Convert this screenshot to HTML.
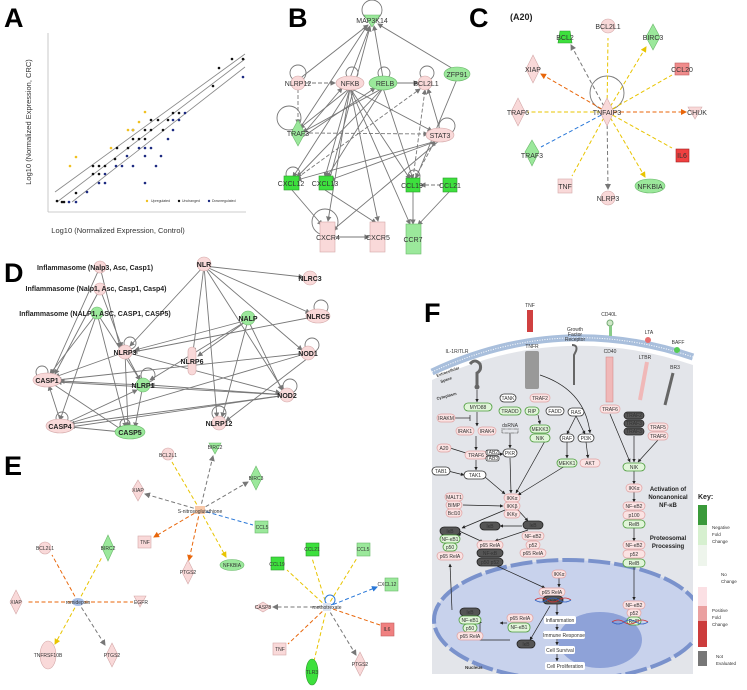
<!DOCTYPE html>
<html><head><meta charset="utf-8"><style>
html,body{margin:0;padding:0;background:#fff;}
svg{display:block;font-family:"Liberation Sans",sans-serif;}
.e{stroke:#777;stroke-width:0.9;fill:none}
.d{stroke:#777;stroke-width:0.9;fill:none;stroke-dasharray:4 2}
.t{font-size:7px;fill:#333;text-anchor:middle}
.tb{font-size:7px;fill:#222;text-anchor:middle;font-weight:bold}
.pk{fill:#f9d9d9;stroke:#d4a8a8;stroke-width:0.6}
.gr{fill:#3de03d;stroke:#2a9a2a;stroke-width:0.6}
.lg{fill:#9be89b;stroke:#6ab86a;stroke-width:0.6}
.ft{font-size:5px;fill:#333;text-anchor:middle}
.pp{fill:#fbe3e3;stroke:#e0a0a0;stroke-width:0.7}
.pg{fill:#e1f5d9;stroke:#4a9a3a;stroke-width:0.8}
.pw{fill:#fff;stroke:#333;stroke-width:0.8}
.pd{fill:#555;stroke:#222;stroke-width:0.8}
.fa{stroke:#222;stroke-width:0.7;fill:none}
</style></head><body>
<svg width="747" height="690" viewBox="0 0 747 690" xmlns="http://www.w3.org/2000/svg">
<defs>
<marker id="ag" markerWidth="6" markerHeight="6" refX="5" refY="3" orient="auto"><path d="M0,0L6,3L0,6z" fill="#777"/></marker>
<marker id="ak" markerWidth="5" markerHeight="5" refX="4.5" refY="2.5" orient="auto"><path d="M0,0L5,2.5L0,5z" fill="#222"/></marker>
<marker id="ao" markerWidth="6" markerHeight="6" refX="5" refY="3" orient="auto"><path d="M0,0L6,3L0,6z" fill="#e8660a"/></marker>
<marker id="ay" markerWidth="6" markerHeight="6" refX="5" refY="3" orient="auto"><path d="M0,0L6,3L0,6z" fill="#e8c400"/></marker>
<marker id="ab" markerWidth="6" markerHeight="6" refX="5" refY="3" orient="auto"><path d="M0,0L6,3L0,6z" fill="#2a78d8"/></marker>
</defs>

<!-- ================= A ================= -->
<text x="4" y="27" font-size="27" font-weight="bold" fill="#000">A</text>
<line x1="48" y1="33" x2="48" y2="212" stroke="#bbb" stroke-width="0.8"/>
<line x1="48" y1="212" x2="246" y2="212" stroke="#bbb" stroke-width="0.8"/>
<line x1="55" y1="192" x2="245" y2="54" stroke="#888" stroke-width="0.8"/>
<line x1="57" y1="202" x2="245" y2="59" stroke="#888" stroke-width="0.8"/>
<line x1="72" y1="202" x2="245" y2="67" stroke="#888" stroke-width="0.8"/>
<g fill="#111">
<circle cx="57" cy="201" r="1.3"/><circle cx="62" cy="202" r="1.3"/><circle cx="64" cy="202" r="1.3"/><circle cx="76" cy="193" r="1.3"/><circle cx="93" cy="166" r="1.3"/><circle cx="93" cy="174" r="1.3"/><circle cx="99" cy="166" r="1.3"/><circle cx="99" cy="174" r="1.3"/><circle cx="105" cy="166" r="1.3"/><circle cx="115" cy="159" r="1.3"/><circle cx="117" cy="148" r="1.3"/><circle cx="128" cy="148" r="1.3"/><circle cx="133" cy="139" r="1.3"/><circle cx="139" cy="139" r="1.3"/><circle cx="133" cy="130" r="1.3"/><circle cx="145" cy="130" r="1.3"/><circle cx="145" cy="139" r="1.3"/><circle cx="151" cy="130" r="1.3"/><circle cx="151" cy="120" r="1.3"/><circle cx="158" cy="120" r="1.3"/><circle cx="163" cy="130" r="1.3"/><circle cx="168" cy="120" r="1.3"/><circle cx="173" cy="113" r="1.3"/><circle cx="179" cy="113" r="1.3"/><circle cx="213" cy="86" r="1.3"/><circle cx="219" cy="68" r="1.3"/><circle cx="232" cy="59" r="1.3"/><circle cx="243" cy="59" r="1.3"/>
</g>
<g fill="#1c2a80">
<circle cx="69" cy="202" r="1.3"/><circle cx="76" cy="202" r="1.3"/><circle cx="87" cy="192" r="1.3"/><circle cx="99" cy="183" r="1.3"/><circle cx="105" cy="183" r="1.3"/><circle cx="105" cy="174" r="1.3"/><circle cx="116" cy="166" r="1.3"/><circle cx="122" cy="166" r="1.3"/><circle cx="127" cy="156" r="1.3"/><circle cx="133" cy="166" r="1.3"/><circle cx="139" cy="148" r="1.3"/><circle cx="145" cy="148" r="1.3"/><circle cx="151" cy="148" r="1.3"/><circle cx="145" cy="156" r="1.3"/><circle cx="156" cy="166" r="1.3"/><circle cx="145" cy="183" r="1.3"/><circle cx="161" cy="156" r="1.3"/><circle cx="168" cy="139" r="1.3"/><circle cx="173" cy="120" r="1.3"/><circle cx="173" cy="130" r="1.3"/><circle cx="179" cy="120" r="1.3"/><circle cx="185" cy="113" r="1.3"/><circle cx="243" cy="77" r="1.3"/>
</g>
<g fill="#f0c020">
<circle cx="70" cy="166" r="1.3"/><circle cx="76" cy="157" r="1.3"/><circle cx="111" cy="148" r="1.3"/><circle cx="128" cy="130" r="1.3"/><circle cx="133" cy="130" r="1.3"/><circle cx="139" cy="122" r="1.3"/><circle cx="145" cy="112" r="1.3"/>
</g>
<circle cx="147" cy="201" r="1.2" fill="#f0c020"/><text x="151" y="202" font-size="3.5" fill="#333">Upregulated</text>
<circle cx="179" cy="201" r="1.2" fill="#111"/><text x="182" y="202" font-size="3.5" fill="#333">Unchanged</text>
<circle cx="209" cy="201" r="1.2" fill="#1c2a80"/><text x="212" y="202" font-size="3.5" fill="#333">Downregulated</text>
<text x="118" y="233" font-size="7.5" fill="#333" text-anchor="middle">Log10 (Normalized Expression, Control)</text>
<text transform="translate(31,122) rotate(-90)" font-size="7.5" fill="#333" text-anchor="middle">Log10 (Normalized Expression, CRC)</text>

<!-- ================= B ================= -->
<text x="288" y="27" font-size="27" font-weight="bold" fill="#000">B</text>
<g class="e" marker-end="url(#ag)">
<line x1="298" y1="80" x2="368" y2="25"/><line x1="350" y1="78" x2="370" y2="26"/><line x1="383" y1="78" x2="374" y2="26"/><line x1="455" y1="70" x2="378" y2="24"/>
<line x1="300" y1="128" x2="367" y2="26"/><line x1="330" y1="178" x2="370" y2="27"/>
<line x1="350" y1="88" x2="300" y2="128"/><line x1="350" y1="88" x2="293" y2="177"/><line x1="350" y1="88" x2="325" y2="177"/><line x1="350" y1="88" x2="328" y2="221"/><line x1="350" y1="88" x2="378" y2="221"/><line x1="350" y1="88" x2="410" y2="224"/><line x1="350" y1="88" x2="410" y2="179"/><line x1="350" y1="88" x2="432" y2="131"/>
<line x1="383" y1="88" x2="303" y2="132"/><line x1="383" y1="88" x2="297" y2="177"/><line x1="383" y1="88" x2="327" y2="177"/><line x1="383" y1="88" x2="413" y2="179"/><line x1="395" y1="83" x2="418" y2="83"/>
<line x1="457" y1="79" x2="416" y2="178"/><line x1="440" y1="140" x2="297" y2="180"/><line x1="440" y1="140" x2="330" y2="180"/><line x1="440" y1="140" x2="333" y2="230"/><line x1="440" y1="130" x2="428" y2="89"/>
<line x1="413" y1="192" x2="413" y2="224"/><line x1="449" y1="192" x2="418" y2="225"/><line x1="325" y1="190" x2="376" y2="223"/><line x1="336" y1="237" x2="369" y2="237"/><line x1="292" y1="190" x2="322" y2="225"/>
<line x1="298" y1="140" x2="342" y2="88"/><line x1="298" y1="140" x2="375" y2="88"/>
</g>
<g class="d" marker-end="url(#ag)">
<line x1="306" y1="83" x2="335" y2="83"/><line x1="298" y1="89" x2="298" y2="124"/><line x1="309" y1="133" x2="428" y2="134"/><line x1="297" y1="178" x2="420" y2="89"/><line x1="413" y1="178" x2="425" y2="90"/><line x1="441" y1="185" x2="421" y2="185"/><line x1="415" y1="178" x2="435" y2="141"/>
</g>
<g class="e">
<circle cx="372" cy="10" r="10"/><circle cx="298" cy="73" r="8"/><circle cx="352" cy="73" r="6"/><circle cx="384" cy="73" r="6"/><circle cx="427" cy="73" r="7"/><circle cx="447" cy="126" r="8"/><circle cx="289" cy="118" r="12"/><circle cx="293" cy="174" r="7"/><circle cx="414" cy="176" r="6"/><circle cx="325" cy="222" r="13"/>
</g>
<polygon points="364,15 380,15 372,27" class="lg"/><text x="372" y="23" class="t">MAP3K14</text>
<circle cx="298" cy="83" r="7" class="pk"/><text x="298" y="86" class="t">NLRP12</text>
<ellipse cx="350" cy="83" rx="14" ry="7" class="pk"/><text x="350" y="86" class="t">NFKB</text>
<ellipse cx="383" cy="83" rx="14" ry="7" class="lg"/><text x="385" y="86" class="t">RELB</text>
<circle cx="425" cy="83" r="7" class="pk"/><text x="426" y="86" class="t">BCL2L1</text>
<ellipse cx="457" cy="74" rx="13" ry="7" class="lg"/><text x="457" y="77" class="t">ZFP91</text>
<polygon points="298,120 305,133 298,146 291,133" class="lg"/><text x="298" y="136" class="t">TRAF3</text>
<ellipse cx="440" cy="135" rx="14" ry="7" class="pk"/><text x="440" y="138" class="t">STAT3</text>
<rect x="284" y="176" width="15" height="14" class="gr"/><text x="291" y="186" class="t">CXCL12</text>
<rect x="319" y="176" width="14" height="14" class="gr"/><text x="325" y="186" class="t">CXCL13</text>
<rect x="406" y="178" width="14" height="14" class="gr"/><text x="412" y="188" class="t">CCL19</text>
<rect x="443" y="178" width="14" height="14" class="gr"/><text x="450" y="188" class="t">CCL21</text>
<rect x="320" y="222" width="15" height="30" class="pk"/><text x="328" y="240" class="t">CXCR4</text>
<rect x="370" y="222" width="15" height="30" class="pk"/><text x="378" y="240" class="t">CXCR5</text>
<rect x="406" y="224" width="15" height="30" class="lg"/><text x="413" y="242" class="t">CCR7</text>

<!-- ================= C ================= -->
<text x="469" y="27" font-size="27" font-weight="bold" fill="#000">C</text>
<text x="510" y="20" font-size="9" font-weight="bold" fill="#222">(A20)</text>
<circle cx="607" cy="93" r="17" class="e"/>
<g fill="none" stroke-width="1" stroke-dasharray="4 2.5">
<line x1="607" y1="112" x2="608" y2="38" stroke="#e8c400"/>
<line x1="607" y1="112" x2="571" y2="45" stroke="#777" marker-end="url(#ag)"/>
<line x1="607" y1="112" x2="646" y2="47" stroke="#e8c400" marker-end="url(#ay)"/>
<line x1="607" y1="112" x2="541" y2="74" stroke="#e8660a" marker-end="url(#ao)"/>
<line x1="607" y1="112" x2="672" y2="75" stroke="#e8c400"/>
<line x1="607" y1="112" x2="527" y2="112" stroke="#e8c400"/>
<line x1="607" y1="112" x2="686" y2="112" stroke="#e8660a" marker-end="url(#ao)"/>
<line x1="607" y1="112" x2="541" y2="147" stroke="#2a78d8"/>
<line x1="607" y1="112" x2="672" y2="148" stroke="#e8c400"/>
<line x1="607" y1="112" x2="572" y2="176" stroke="#e8c400"/>
<line x1="607" y1="112" x2="608" y2="189" stroke="#777" marker-end="url(#ag)"/>
<line x1="607" y1="112" x2="645" y2="177" stroke="#e8c400" marker-end="url(#ay)"/>
</g>
<polygon points="607,98 614,112 607,126 600,112" class="pk"/><text x="607" y="115" class="t">TNFAIP3</text>
<circle cx="608" cy="26" r="7" class="pk"/><text x="608" y="29" class="t">BCL2L1</text>
<polygon points="560,31 570,31 572,43 558,43" class="gr"/><text x="565" y="40" class="t">BCL2</text>
<polygon points="653,24 660,37 653,50 646,37" class="lg"/><text x="653" y="40" class="t">BIRC3</text>
<polygon points="533,55 540,69 533,83 526,69" class="pk"/><text x="533" y="72" class="t">XIAP</text>
<rect x="675" y="63" width="14" height="12" fill="#f08c8c" stroke="#c06060" stroke-width="0.6"/><text x="682" y="72" class="t">CCL20</text>
<polygon points="518,98 525,112 518,126 511,112" class="pk"/><text x="518" y="115" class="t">TRAF6</text>
<polygon points="688,107 702,107 695,119" class="pk"/><text x="697" y="115" class="t">CHUK</text>
<polygon points="532,140 539,152 532,166 525,152" class="lg"/><text x="532" y="158" class="t">TRAF3</text>
<rect x="676" y="149" width="13" height="13" fill="#f04040" stroke="#a02020" stroke-width="0.6"/><text x="682" y="158" class="t">IL6</text>
<rect x="558" y="179" width="14" height="14" class="pk"/><text x="565" y="189" class="t">TNF</text>
<circle cx="608" cy="198" r="7" class="pk"/><text x="608" y="201" class="t">NLRP3</text>
<ellipse cx="650" cy="186" rx="15" ry="7" class="lg"/><text x="650" y="189" class="t">NFKBIA</text>

<!-- ================= D ================= -->
<text x="4" y="282" font-size="27" font-weight="bold" fill="#000">D</text>
<g class="e" marker-end="url(#ag)">
<line x1="204" y1="266" x2="303" y2="277"/><line x1="204" y1="266" x2="310" y2="313"/><line x1="204" y1="266" x2="302" y2="350"/><line x1="204" y1="266" x2="283" y2="390"/><line x1="204" y1="266" x2="217" y2="417"/><line x1="204" y1="266" x2="193" y2="352"/><line x1="204" y1="266" x2="130" y2="346"/>
<line x1="248" y1="320" x2="135" y2="350"/><line x1="248" y1="320" x2="198" y2="356"/><line x1="248" y1="320" x2="150" y2="380"/><line x1="248" y1="320" x2="282" y2="390"/><line x1="248" y1="320" x2="222" y2="417"/>
<line x1="318" y1="316" x2="133" y2="352"/><line x1="308" y1="353" x2="57" y2="380"/><line x1="308" y1="353" x2="67" y2="424"/><line x1="308" y1="358" x2="226" y2="421"/>
<line x1="287" y1="395" x2="57" y2="382"/><line x1="287" y1="395" x2="150" y2="385"/><line x1="287" y1="395" x2="70" y2="427"/><line x1="125" y1="352" x2="280" y2="393"/>
<line x1="100" y1="267" x2="52" y2="374"/><line x1="100" y1="289" x2="55" y2="374"/><line x1="97" y1="313" x2="60" y2="420"/><line x1="97" y1="313" x2="126" y2="427"/><line x1="97" y1="313" x2="140" y2="380"/><line x1="100" y1="267" x2="120" y2="347"/><line x1="100" y1="289" x2="122" y2="347"/><line x1="97" y1="313" x2="50" y2="374"/>
<line x1="125" y1="352" x2="55" y2="377"/><line x1="143" y1="385" x2="60" y2="381"/><line x1="143" y1="385" x2="135" y2="427"/><line x1="125" y1="352" x2="140" y2="380"/><line x1="125" y1="352" x2="128" y2="427"/>
<line x1="60" y1="426" x2="122" y2="432"/><line x1="60" y1="426" x2="137" y2="390"/><line x1="47" y1="380" x2="122" y2="430"/><line x1="60" y1="420" x2="49" y2="386"/><line x1="287" y1="395" x2="70" y2="424"/>
</g>
<g class="e"><circle cx="130" cy="343" r="6"/><circle cx="148" cy="375" r="7"/><circle cx="42" cy="372" r="6"/><circle cx="62" cy="418" r="6"/><circle cx="125" cy="424" r="5"/><circle cx="219" cy="413" r="7"/><circle cx="312" cy="345" r="7"/><circle cx="290" cy="386" r="7"/><circle cx="321" cy="307" r="7"/></g>
<circle cx="100" cy="267" r="6" class="pk"/><text x="95" y="270" class="tb">Inflammasome (Nalp3, Asc, Casp1)</text>
<circle cx="100" cy="289" r="6" class="pk"/><text x="96" y="291" class="tb">Inflammasome (Nalp1, Asc, Casp1, Casp4)</text>
<circle cx="97" cy="313" r="6" class="lg"/><text x="95" y="316" class="tb">Inflammasome (NALP1, ASC, CASP1, CASP5)</text>
<circle cx="204" cy="264" r="7" class="pk"/><text x="204" y="267" class="tb">NLR</text>
<circle cx="310" cy="278" r="7" class="pk"/><text x="310" y="281" class="tb">NLRC3</text>
<circle cx="248" cy="318" r="7" class="lg"/><text x="248" y="321" class="tb">NALP</text>
<ellipse cx="318" cy="316" rx="12" ry="7" class="pk"/><text x="318" y="319" class="tb">NLRC5</text>
<circle cx="125" cy="352" r="7" class="pk"/><text x="125" y="355" class="tb">NLRP3</text>
<rect x="188" y="347" width="8" height="28" rx="4" class="pk"/><text x="192" y="364" class="tb">NLRP6</text>
<circle cx="308" cy="353" r="7" class="pk"/><text x="308" y="356" class="tb">NOD1</text>
<ellipse cx="47" cy="380" rx="14" ry="7" class="pk"/><text x="47" y="383" class="tb">CASP1</text>
<circle cx="143" cy="385" r="7" class="lg"/><text x="143" y="388" class="tb">NLRP1</text>
<circle cx="287" cy="395" r="7" class="pk"/><text x="287" y="398" class="tb">NOD2</text>
<ellipse cx="60" cy="426" rx="14" ry="7" class="pk"/><text x="60" y="429" class="tb">CASP4</text>
<ellipse cx="130" cy="432" rx="15" ry="7" class="lg"/><text x="130" y="435" class="tb">CASP5</text>
<circle cx="219" cy="423" r="7" class="pk"/><text x="219" y="426" class="tb">NLRP12</text>

<!-- ================= E ================= -->
<text x="4" y="475" font-size="27" font-weight="bold" fill="#000">E</text>
<g fill="none" stroke-width="1" stroke-dasharray="4 2.5">
<line x1="200" y1="510" x2="172" y2="462" stroke="#e8c400"/>
<line x1="200" y1="510" x2="213" y2="456" stroke="#777" marker-end="url(#ag)"/>
<line x1="200" y1="510" x2="248" y2="482" stroke="#777" marker-end="url(#ag)"/>
<line x1="200" y1="510" x2="145" y2="494" stroke="#777" marker-end="url(#ag)"/>
<line x1="200" y1="510" x2="253" y2="525" stroke="#2a78d8"/>
<line x1="200" y1="510" x2="154" y2="537" stroke="#e8660a" marker-end="url(#ao)"/>
<line x1="200" y1="510" x2="189" y2="560" stroke="#e8660a" marker-end="url(#ao)"/>
<line x1="200" y1="510" x2="226" y2="557" stroke="#e8c400" marker-end="url(#ay)"/>
<line x1="78" y1="602" x2="52" y2="555" stroke="#e8660a"/>
<line x1="78" y1="602" x2="102" y2="557" stroke="#e8c400"/>
<line x1="78" y1="602" x2="26" y2="602" stroke="#e8660a"/>
<line x1="78" y1="602" x2="133" y2="602" stroke="#e8660a"/>
<line x1="78" y1="602" x2="55" y2="644" stroke="#e8c400" marker-end="url(#ay)"/>
<line x1="78" y1="602" x2="105" y2="645" stroke="#777" marker-end="url(#ag)"/>
<line x1="327" y1="607" x2="312" y2="558" stroke="#e8c400"/>
<line x1="327" y1="607" x2="357" y2="558" stroke="#e8c400"/>
<line x1="327" y1="607" x2="287" y2="570" stroke="#e8c400"/>
<line x1="327" y1="607" x2="377" y2="587" stroke="#2a78d8" marker-end="url(#ab)"/>
<line x1="327" y1="607" x2="273" y2="607" stroke="#777" marker-end="url(#ag)"/>
<line x1="327" y1="607" x2="380" y2="625" stroke="#e8660a"/>
<line x1="327" y1="607" x2="288" y2="644" stroke="#e8660a"/>
<line x1="327" y1="607" x2="314" y2="661" stroke="#e8c400"/>
<line x1="327" y1="607" x2="356" y2="655" stroke="#777" marker-end="url(#ag)"/>
</g>
<circle cx="330" cy="600" r="5" fill="none" stroke="#2a78d8" stroke-width="1"/>
<rect x="195" y="506" width="10" height="8" fill="#f8c8a8"/><text x="200" y="513" class="ft">S-nitrosoglutathione</text>
<circle cx="168" cy="454" r="6" class="pk"/><text x="168" y="457" class="ft">BCL2L1</text>
<polygon points="209,443 221,443 215,454" class="lg"/><text x="215" y="449" class="ft">BIRC2</text>
<polygon points="256,466 262,478 256,490 250,478" class="lg"/><text x="256" y="480" class="ft">BIRC3</text>
<polygon points="138,480 144,490 138,501 132,490" class="pk"/><text x="138" y="492" class="ft">XIAP</text>
<rect x="255" y="521" width="13" height="12" class="lg"/><text x="262" y="529" class="ft">CCL5</text>
<rect x="138" y="536" width="13" height="12" class="pk"/><text x="145" y="544" class="ft">TNF</text>
<polygon points="188,560 194,572 188,584 182,572" class="pk"/><text x="188" y="574" class="ft">PTGS2</text>
<ellipse cx="232" cy="565" rx="12" ry="5.5" class="lg"/><text x="232" y="567" class="ft">NFKBIA</text>
<ellipse cx="78" cy="602" rx="6" ry="4" fill="#a8c0e8"/><text x="78" y="604" class="ft">romidepsin</text>
<circle cx="45" cy="548" r="6" class="pk"/><text x="45" y="550" class="ft">BCL2L1</text>
<polygon points="108,535 114,548 108,561 102,548" class="lg"/><text x="108" y="550" class="ft">BIRC2</text>
<polygon points="16,590 22,602 16,614 10,602" class="pk"/><text x="16" y="604" class="ft">XIAP</text>
<polygon points="134,596 146,596 140,607" class="pk"/><text x="141" y="604" class="ft">EGFR</text>
<ellipse cx="48" cy="655" rx="8" ry="14" class="pk"/><text x="48" y="657" class="ft">TNFRSF10B</text>
<polygon points="112,643 118,655 112,667 106,655" class="pk"/><text x="112" y="657" class="ft">PTGS2</text>
<rect x="323" y="603" width="8" height="8" fill="#dde4f0"/><text x="327" y="609" class="ft">methotrexate</text>
<rect x="306" y="543" width="13" height="13" class="gr"/><text x="312" y="551" class="ft">CCL21</text>
<rect x="357" y="543" width="13" height="13" class="lg"/><text x="363" y="551" class="ft">CCL5</text>
<rect x="271" y="557" width="13" height="13" class="gr"/><text x="277" y="566" class="ft">CCL19</text>
<rect x="385" y="578" width="13" height="13" class="lg"/><text x="387" y="586" class="ft">CXCL12</text>
<polygon points="263,602 271,607 263,612 255,607" class="pk"/><text x="263" y="609" class="ft">CASP8</text>
<rect x="381" y="623" width="13" height="13" fill="#f08080" stroke="#c06060" stroke-width="0.6"/><text x="387" y="631" class="ft">IL6</text>
<rect x="273" y="643" width="13" height="12" class="pk"/><text x="280" y="651" class="ft">TNF</text>
<ellipse cx="312" cy="672" rx="6" ry="13" class="gr"/><text x="312" y="674" class="ft">TLR3</text>
<polygon points="360,652 366,664 360,676 354,664" class="pk"/><text x="360" y="666" class="ft">PTGS2</text>

<!-- ================= F ================= -->
<text x="424" y="322" font-size="27" font-weight="bold" fill="#000">F</text>
<path d="M432,380 Q560,320 693,365 L693,674 L432,674 Z" fill="#e3e5ea"/>
<path d="M432,372 Q560,312 693,357" stroke="#a9bfdc" stroke-width="7" fill="none"/>
<path d="M432,372 Q560,312 693,357" stroke="#fff" stroke-width="1" fill="none" stroke-dasharray="1 1.5"/>
<clipPath id="cc"><rect x="432" y="540" width="261" height="134"/></clipPath>
<g clip-path="url(#cc)">
<ellipse cx="568" cy="620" rx="134" ry="60" fill="#c8d2ec" stroke="#7a92cc" stroke-width="4" stroke-dasharray="22 4"/>
<ellipse cx="600" cy="640" rx="42" ry="28" fill="#8ea2d8"/>
</g>
<text x="465" y="669" font-size="4.5" font-weight="bold" fill="#333">Nucleus</text>
<text transform="translate(437,377) rotate(-20)" font-size="4" font-weight="bold" fill="#333">Extracellular</text>
<text transform="translate(441,383) rotate(-20)" font-size="4" font-weight="bold" fill="#333">Space</text>
<text transform="translate(437,400) rotate(-15)" font-size="4" font-weight="bold" fill="#333">Cytoplasm</text>
<!-- receptors -->
<text x="530" y="307" class="ft" font-size="4">TNF</text><rect x="527" y="310" width="6" height="22" fill="#d04040"/>
<text x="532" y="348" class="ft" font-size="4">TNFR</text><rect x="525" y="351" width="14" height="38" fill="#999" rx="2"/>
<text x="575" y="331" class="ft" font-size="4">Growth</text><text x="575" y="336" class="ft" font-size="4">Factor</text><text x="575" y="341" class="ft" font-size="4">Receptor</text>
<path d="M572,345 q6,0 4,6 l-2,4 l0,30" stroke="#666" stroke-width="2" fill="none"/>
<text x="609" y="316" class="ft" font-size="4">CD40L</text><circle cx="610" cy="323" r="3" fill="#cfe8c8" stroke="#7a7"/><rect x="609" y="326" width="3" height="10" fill="#8c8"/>
<text x="610" y="353" class="ft" font-size="4">CD40</text><rect x="606" y="357" width="7" height="45" fill="#f0b8b8" stroke="#d08080" stroke-width="0.5"/>
<text x="649" y="334" class="ft" font-size="4">LTA</text><circle cx="648" cy="340" r="3" fill="#e87070"/>
<text x="645" y="359" class="ft" font-size="4">LTBR</text><path d="M647,362 L640,400" stroke="#f0b8b8" stroke-width="4"/>
<text x="678" y="344" class="ft" font-size="4">BAFF</text><circle cx="677" cy="350" r="3" fill="#5c5"/>
<text x="675" y="369" class="ft" font-size="4">BR3</text><path d="M673,373 L665,405" stroke="#666" stroke-width="3"/>
<text x="457" y="353" class="ft" font-size="4">IL-1R/TLR</text>
<path d="M470,364 q5,-6 10,0 q2,6 -3,9 l0,14" stroke="#666" stroke-width="3" fill="none"/><circle cx="477" cy="387" r="2.5" fill="#666"/>
<!-- arrows F -->
<g class="fa" marker-end="url(#ak)">
<line x1="477" y1="390" x2="477" y2="402"/><line x1="477" y1="412" x2="477" y2="426"/><line x1="476" y1="436" x2="476" y2="450"/><line x1="476" y1="460" x2="476" y2="470"/>
<line x1="487" y1="455" x2="503" y2="454"/><line x1="448" y1="471" x2="464" y2="475"/><line x1="510" y1="433" x2="510" y2="448"/>
<line x1="510" y1="458" x2="511" y2="493"/><line x1="485" y1="477" x2="505" y2="494"/><line x1="545" y1="441" x2="516" y2="493"/><line x1="565" y1="466" x2="518" y2="495"/>
<line x1="538" y1="415" x2="540" y2="424"/><line x1="576" y1="416" x2="567" y2="434"/><line x1="576" y1="416" x2="585" y2="434"/><line x1="567" y1="442" x2="567" y2="458"/><line x1="586" y1="442" x2="588" y2="458"/>
<path d="M540,375 Q585,390 590,433"/>
<line x1="610" y1="414" x2="630" y2="462"/><line x1="634" y1="436" x2="634" y2="462"/><line x1="658" y1="440" x2="638" y2="462"/>
<line x1="634" y1="471" x2="634" y2="484"/><line x1="634" y1="492" x2="634" y2="502"/><line x1="634" y1="528" x2="634" y2="541"/><line x1="634" y1="567" x2="634" y2="600"/>
<line x1="463" y1="505" x2="503" y2="506"/><line x1="505" y1="510" x2="462" y2="528"/><line x1="518" y1="510" x2="528" y2="521"/><line x1="522" y1="526" x2="500" y2="526"/><line x1="457" y1="530" x2="483" y2="542"/><line x1="528" y1="530" x2="495" y2="541"/>
<line x1="497" y1="566" x2="545" y2="588"/><line x1="559" y1="578" x2="559" y2="587"/><line x1="557" y1="604" x2="557" y2="615"/><line x1="557" y1="624" x2="557" y2="630"/><line x1="557" y1="639" x2="557" y2="645"/><line x1="557" y1="654" x2="557" y2="661"/>
<line x1="458" y1="536" x2="461" y2="533"/><line x1="452" y1="610" x2="450" y2="564"/><path d="M507,623 L500,623"/><path d="M510,640 L480,640 L480,620"/><line x1="550" y1="606" x2="530" y2="640"/>
</g>
<line x1="455" y1="418" x2="470" y2="418" class="fa"/><line x1="470" y1="415" x2="470" y2="421" class="fa"/>
<line x1="450" y1="448" x2="466" y2="453" class="fa"/>
<!-- pills -->
<g>
<rect x="464" y="403" width="28" height="8" rx="4" class="pg"/><text x="478" y="409" class="ft">MYD88</text>
<rect x="437" y="414" width="18" height="8" rx="4" class="pp"/><text x="446" y="420" class="ft">IRAKM</text>
<rect x="456" y="427" width="18" height="8" rx="4" class="pp"/><text x="465" y="433" class="ft">IRAK1</text>
<rect x="478" y="427" width="18" height="8" rx="4" class="pp"/><text x="487" y="433" class="ft">IRAK4</text>
<rect x="437" y="444" width="14" height="8" rx="4" class="pp"/><text x="444" y="450" class="ft">A20</text>
<rect x="465" y="451" width="22" height="8" rx="4" class="pp"/><text x="476" y="457" class="ft">TRAF6</text>
<rect x="486" y="450" width="13" height="5" rx="2" class="pw"/><text x="492" y="454" class="ft" font-size="3">TAB2</text>
<rect x="486" y="456" width="13" height="5" rx="2" class="pw"/><text x="492" y="460" class="ft" font-size="3">TAB3</text>
<rect x="503" y="449" width="14" height="8" rx="4" class="pw"/><text x="510" y="455" class="ft">PKR</text>
<text x="510" y="427" class="ft">dsRNA</text><rect x="502" y="429" width="16" height="4" fill="none" stroke="#555" stroke-dasharray="0.6 0.6"/>
<rect x="432" y="467" width="18" height="8" rx="4" class="pw"/><text x="441" y="473" class="ft">TAB1</text>
<rect x="464" y="471" width="22" height="8" rx="4" class="pw"/><text x="475" y="477" class="ft">TAK1</text>
<rect x="500" y="394" width="16" height="8" rx="4" class="pw"/><text x="508" y="400" class="ft">TANK</text>
<rect x="530" y="394" width="20" height="8" rx="4" class="pp"/><text x="540" y="400" class="ft">TRAF2</text>
<rect x="499" y="407" width="22" height="8" rx="4" class="pg"/><text x="510" y="413" class="ft">TRADD</text>
<rect x="525" y="407" width="14" height="8" rx="4" class="pg"/><text x="532" y="413" class="ft">RIP</text>
<rect x="546" y="407" width="18" height="8" rx="4" class="pw"/><text x="555" y="413" class="ft">FADD</text>
<rect x="530" y="425" width="20" height="8" rx="4" class="pg"/><text x="540" y="431" class="ft">MEKK3</text>
<rect x="530" y="434" width="20" height="8" rx="4" class="pg"/><text x="540" y="440" class="ft">NIK</text>
<rect x="568" y="408" width="16" height="8" rx="4" class="pw"/><text x="576" y="414" class="ft">RAS</text>
<rect x="560" y="434" width="14" height="8" rx="4" class="pw"/><text x="567" y="440" class="ft">RAF</text>
<rect x="578" y="434" width="16" height="8" rx="4" class="pw"/><text x="586" y="440" class="ft">PI3K</text>
<rect x="557" y="459" width="20" height="8" rx="4" class="pg"/><text x="567" y="465" class="ft">MEKK1</text>
<rect x="580" y="459" width="20" height="8" rx="4" class="pp"/><text x="590" y="465" class="ft">AKT</text>
<rect x="600" y="405" width="20" height="8" rx="4" class="pp"/><text x="610" y="411" class="ft">TRAF6</text>
<rect x="624" y="412" width="20" height="7" rx="3.5" class="pd"/><text x="634" y="417" class="ft" fill="#ddd">TRAF2</text>
<rect x="624" y="420" width="20" height="7" rx="3.5" class="pd"/><text x="634" y="425" class="ft" fill="#ddd">TRAF3</text>
<rect x="624" y="428" width="20" height="7" rx="3.5" class="pd"/><text x="634" y="433" class="ft" fill="#ddd">TRAF3</text>
<rect x="648" y="423" width="20" height="8" rx="4" class="pp"/><text x="658" y="429" class="ft">TRAF5</text>
<rect x="648" y="432" width="20" height="8" rx="4" class="pp"/><text x="658" y="438" class="ft">TRAF6</text>
<rect x="623" y="463" width="22" height="8" rx="4" class="pg"/><text x="634" y="469" class="ft">NIK</text>
<rect x="626" y="484" width="16" height="8" rx="4" class="pp"/><text x="634" y="490" class="ft">IKKα</text>
<rect x="623" y="502" width="22" height="8" rx="4" class="pp"/><text x="634" y="508" class="ft">NF-κB2</text>
<rect x="623" y="511" width="22" height="8" rx="4" class="pp"/><text x="634" y="517" class="ft">p100</text>
<rect x="623" y="520" width="22" height="8" rx="4" class="pg"/><text x="634" y="526" class="ft">RelB</text>
<rect x="623" y="541" width="22" height="8" rx="4" class="pp"/><text x="634" y="547" class="ft">NF-κB2</text>
<rect x="623" y="550" width="22" height="8" rx="4" class="pp"/><text x="634" y="556" class="ft">p52</text>
<rect x="623" y="559" width="22" height="8" rx="4" class="pg"/><text x="634" y="565" class="ft">RelB</text>
<text x="668" y="491" font-size="6" font-weight="bold" fill="#222" text-anchor="middle">Activation of</text>
<text x="668" y="499" font-size="6" font-weight="bold" fill="#222" text-anchor="middle">Noncanonical</text>
<text x="668" y="507" font-size="6" font-weight="bold" fill="#222" text-anchor="middle">NF-κB</text>
<text x="668" y="540" font-size="6" font-weight="bold" fill="#222" text-anchor="middle">Proteosomal</text>
<text x="668" y="548" font-size="6" font-weight="bold" fill="#222" text-anchor="middle">Processing</text>
<rect x="445" y="493" width="18" height="8" rx="4" class="pp"/><text x="454" y="499" class="ft">MALT1</text>
<rect x="446" y="501" width="16" height="8" rx="4" class="pp" stroke="#444"/><text x="454" y="507" class="ft">BIMP</text>
<rect x="446" y="509" width="16" height="8" rx="4" class="pp"/><text x="454" y="515" class="ft">Bcl10</text>
<rect x="504" y="494" width="16" height="8" rx="4" class="pp"/><text x="512" y="500" class="ft">IKKα</text>
<rect x="504" y="502" width="16" height="8" rx="4" class="pp"/><text x="512" y="508" class="ft">IKKβ</text>
<rect x="504" y="510" width="16" height="8" rx="4" class="pp"/><text x="512" y="516" class="ft">IKKγ</text>
<rect x="440" y="527" width="20" height="8" rx="4" class="pd"/><text x="450" y="533" class="ft" fill="#ddd">IκB</text>
<rect x="440" y="535" width="20" height="8" rx="4" class="pg"/><text x="450" y="541" class="ft">NF-κB1</text>
<rect x="443" y="543" width="14" height="8" rx="4" class="pg"/><text x="450" y="549" class="ft">p50</text>
<rect x="437" y="552" width="26" height="8" rx="4" class="pp"/><text x="450" y="558" class="ft">p65 RelA</text>
<rect x="480" y="522" width="20" height="8" rx="4" class="pd"/><text x="490" y="528" class="ft" fill="#ddd">IκB</text>
<rect x="523" y="521" width="20" height="8" rx="4" class="pd"/><text x="533" y="527" class="ft" fill="#ddd">IκB</text>
<rect x="522" y="532" width="22" height="8" rx="4" class="pp"/><text x="533" y="538" class="ft">NF-κB2</text>
<rect x="526" y="541" width="14" height="8" rx="4" class="pp"/><text x="533" y="547" class="ft">p52</text>
<rect x="520" y="549" width="26" height="8" rx="4" class="pp"/><text x="533" y="555" class="ft">p65 RelA</text>
<rect x="477" y="541" width="26" height="8" rx="4" class="pp"/><text x="490" y="547" class="ft">p65 RelA</text>
<rect x="477" y="549" width="26" height="8" rx="4" class="pd"/><text x="490" y="555" class="ft" fill="#ddd">NF-κB</text>
<rect x="477" y="558" width="26" height="8" rx="4" class="pd"/><text x="490" y="564" class="ft" fill="#ddd">p50 p52</text>
<rect x="552" y="570" width="14" height="8" rx="4" class="pp"/><text x="559" y="576" class="ft">IKKα</text>
<rect x="539" y="588" width="26" height="8" rx="4" class="pp"/><text x="552" y="594" class="ft">p65 RelA</text>
<rect x="543" y="596" width="20" height="8" rx="4" class="pd"/><text x="553" y="602" class="ft" fill="#ddd">NF-κB</text>
<path d="M535,600 q6,-4 12,0 t12,0 t12,0" stroke="#d03030" fill="none" stroke-width="0.8"/><path d="M535,600 q6,4 12,0 t12,0 t12,0" stroke="#3060c0" fill="none" stroke-width="0.8"/>
<rect x="544" y="616" width="32" height="8" rx="2" fill="#fff"/><text x="560" y="622" class="ft">Inflammation</text>
<rect x="543" y="631" width="42" height="8" rx="2" fill="#fff"/><text x="564" y="637" class="ft">Immune Response</text>
<rect x="545" y="646" width="30" height="8" rx="2" fill="#fff"/><text x="560" y="652" class="ft">Cell Survival</text>
<rect x="545" y="662" width="40" height="8" rx="2" fill="#fff"/><text x="565" y="668" class="ft">Cell Proliferation</text>
<rect x="460" y="608" width="20" height="8" rx="4" class="pd"/><text x="470" y="614" class="ft" fill="#ddd">IκB</text>
<rect x="459" y="616" width="22" height="8" rx="4" class="pg"/><text x="470" y="622" class="ft">NF-κB1</text>
<rect x="463" y="624" width="14" height="8" rx="4" class="pg"/><text x="470" y="630" class="ft">p50</text>
<rect x="457" y="632" width="26" height="8" rx="4" class="pp"/><text x="470" y="638" class="ft">p65 RelA</text>
<rect x="507" y="614" width="26" height="8" rx="4" class="pp"/><text x="520" y="620" class="ft">p65 RelA</text>
<rect x="508" y="623" width="22" height="9" rx="4" class="pg"/><text x="519" y="629" class="ft">NF-κB1</text>
<rect x="517" y="640" width="18" height="8" rx="4" class="pd"/><text x="526" y="646" class="ft" fill="#ddd">IκB</text>
<rect x="623" y="601" width="22" height="8" rx="4" class="pp"/><text x="634" y="607" class="ft">NF-κB2</text>
<rect x="627" y="609" width="14" height="8" rx="4" class="pp"/><text x="634" y="615" class="ft">p52</text>
<rect x="627" y="617" width="14" height="8" rx="4" class="pg"/><text x="634" y="623" class="ft">RelB</text>
<path d="M612,622 q6,-4 12,0 t12,0 t12,0" stroke="#d03030" fill="none" stroke-width="0.8"/><path d="M612,622 q6,4 12,0 t12,0 t12,0" stroke="#3060c0" fill="none" stroke-width="0.8"/>
</g>
<!-- key -->
<text x="698" y="499" font-size="7" font-weight="bold" fill="#222">Key:</text>
<rect x="698" y="505" width="9" height="20" fill="#3a9a3a"/>
<rect x="698" y="525" width="9" height="20" fill="#d6f0cf"/>
<rect x="698" y="545" width="9" height="21" fill="#eef5ec"/>
<rect x="698" y="587" width="9" height="19" fill="#fbe0e4"/>
<rect x="698" y="606" width="9" height="15" fill="#eaa0a0"/>
<rect x="698" y="621" width="9" height="26" fill="#cc3c3c"/>
<rect x="698" y="651" width="9" height="15" fill="#777"/>
<g font-size="4.5" fill="#333">
<text x="712" y="529">Negative</text><text x="712" y="536">Fold</text><text x="712" y="543">Change</text>
<text x="721" y="576">No</text><text x="721" y="583">Change</text>
<text x="712" y="612">Positive</text><text x="712" y="619">Fold</text><text x="712" y="626">Change</text>
<text x="716" y="658">Not</text><text x="716" y="665">Evaluated</text>
</g>
</svg>
</body></html>
